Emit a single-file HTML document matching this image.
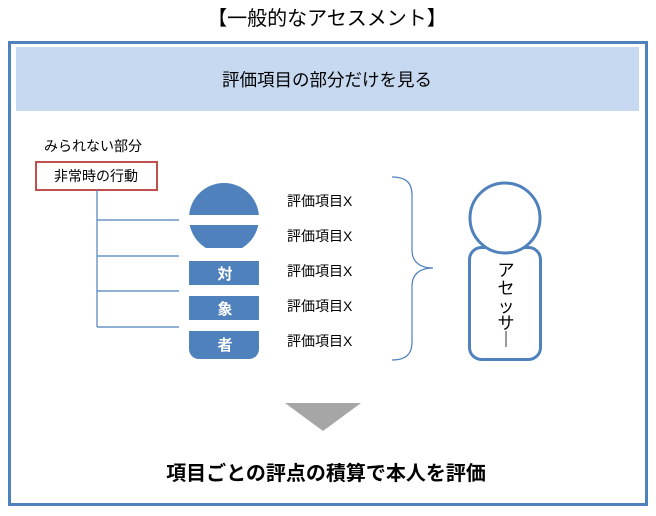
<!DOCTYPE html>
<html><head><meta charset="utf-8"><style>
body{margin:0;background:#fff;}
svg text{font-family:"Liberation Sans","Noto Sans CJK JP",sans-serif;}
</style></head><body>
<svg width="656" height="511" viewBox="0 0 656 511" xmlns="http://www.w3.org/2000/svg">
<text x="327" y="25" font-size="20" text-anchor="middle">【一般的なアセスメント】</text>
<rect x="9.5" y="42.5" width="637" height="462" fill="none" stroke="#4f81bd" stroke-width="3"/>
<rect x="16" y="47" width="623" height="64" fill="#c6d9f0"/>
<text x="327" y="86" font-size="17.5" text-anchor="middle">評価項目の部分だけを見る</text>
<text x="44" y="151" font-size="14">みられない部分</text>
<rect x="36" y="162" width="121" height="28" fill="#fff" stroke="#c0504d" stroke-width="2"/>
<text x="96" y="181" font-size="14" text-anchor="middle">非常時の行動</text>
<g stroke="#4f81bd" stroke-width="1.2" fill="none">
<path d="M97 190V327M97 220H179M97 256H179M97 291H179M97 327H179"/>
</g>
<defs><clipPath id="c"><rect x="180" y="180" width="90" height="35"/><rect x="180" y="225" width="90" height="23"/></clipPath></defs>
<circle cx="224" cy="218" r="35" fill="#4f81bd" clip-path="url(#c)"/>
<rect x="189" y="261" width="70" height="24" fill="#4f81bd"/>
<rect x="189" y="296" width="70" height="24" fill="#4f81bd"/>
<path d="M189 331H259V349A10 10 0 0 1 249 359H199A10 10 0 0 1 189 349Z" fill="#4f81bd"/>
<g fill="#fff" font-size="15" font-weight="bold" text-anchor="middle">
<text x="225" y="279">対</text><text x="225" y="314">象</text><text x="225" y="350">者</text>
</g>
<g font-size="14">
<text x="287" y="206">評価項目X</text><text x="287" y="241">評価項目X</text><text x="287" y="276">評価項目X</text><text x="287" y="311">評価項目X</text><text x="287" y="346">評価項目X</text>
</g>
<path d="M392 177C405 177 412 182 412 195V250C412 262 420 268 433 268C420 268 412 274 412 286V342C412 355 405 360 392 360" fill="none" stroke="#4f81bd" stroke-width="1.2"/>
<rect x="469.5" y="247.5" width="71" height="112" rx="12" fill="#fff" stroke="#4f81bd" stroke-width="3"/>
<circle cx="505" cy="218" r="35" fill="#fff" stroke="#4f81bd" stroke-width="3"/>
<g font-size="17" text-anchor="middle">
<text x="506" y="276">ア</text><text x="506" y="294">セ</text><text x="506" y="312">ッ</text><text x="506" y="329">サ</text>
</g>
<line x1="506" y1="331" x2="506" y2="347" stroke="#333" stroke-width="1"/>
<path d="M285 403H361L323 431Z" fill="#a6a6a6"/>
<text x="326" y="480" font-size="20" font-weight="bold" text-anchor="middle">項目ごとの評点の積算で本人を評価</text>
</svg>
</body></html>
